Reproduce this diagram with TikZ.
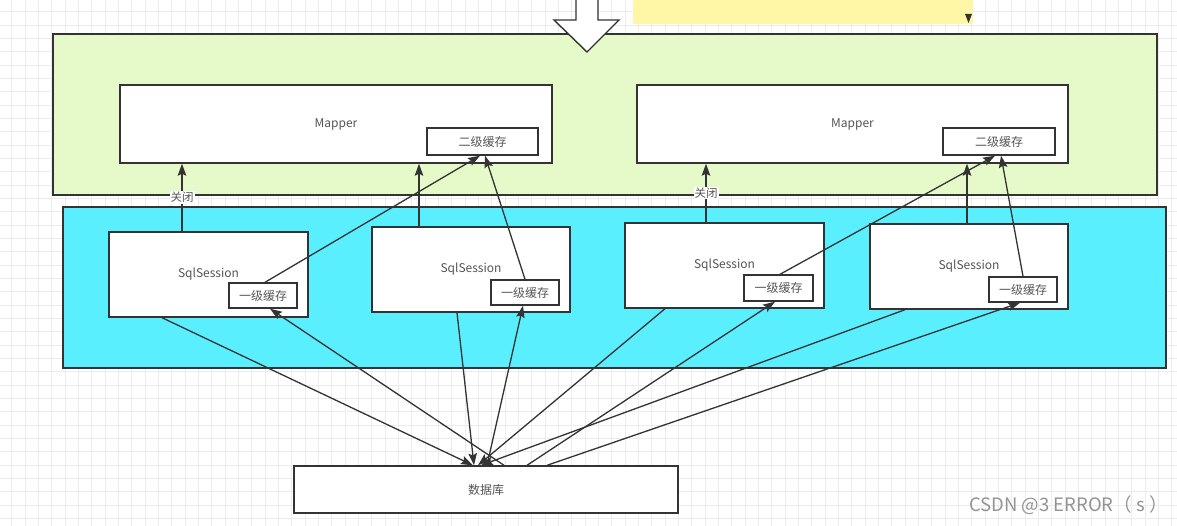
\documentclass[tikz,border=0pt]{standalone}
\usepackage{fontspec}
\setmainfont{Noto Sans CJK SC}
\usetikzlibrary{arrows.meta}
\definecolor{bggreen}{RGB}{230,249,200}
\definecolor{bgcyan}{RGB}{90,239,255}
\definecolor{bgyellow}{RGB}{255,247,165}
\definecolor{edge}{RGB}{51,51,51}
\definecolor{txt}{RGB}{85,85,85}
\definecolor{gridc}{RGB}{236,236,236}
\begin{document}
\begin{tikzpicture}[x=1pt,y=-1pt,
  box/.style={draw=edge,line width=1.4pt,fill=white,rectangle,inner sep=0pt,font=\fontsize{12}{14}\selectfont,text=txt},
  lane/.style={draw=edge,line width=1.4pt,rectangle,inner sep=0pt},
  arr/.style={draw=edge,line width=1.3pt,-{Stealth[length=12pt,width=8.5pt,inset=2pt]}},
  lbl/.style={font=\fontsize{11.5}{13}\selectfont,text=txt,inner sep=1pt}]
\useasboundingbox (0,0) rectangle (1177,526);
\fill[white] (0,0) rectangle (1177,526);
% grid
\foreach \i in {0,...,88} {\draw[gridc,line width=0.6pt] (11.7+13.333*\i,0) -- (11.7+13.333*\i,526);}
\foreach \j in {0,...,39} {\draw[gridc,line width=0.6pt] (0,11.7+13.333*\j) -- (1177,11.7+13.333*\j);}
% lanes
\node[lane,fill=bggreen,minimum width=1104pt,minimum height=161pt] (green) at (605,114.5) {};
\node[lane,fill=bgcyan,minimum width=1103pt,minimum height=161pt] (cyan) at (614.5,287.5) {};
\node[rectangle,fill=bgyellow,inner sep=0pt,minimum width=340pt,minimum height=30pt] (yel) at (803,9.5) {};
\fill[edge] (965,14) -- (972,14) -- (968.5,23) -- cycle;
% big hollow arrow
\draw[edge,fill=white,line width=1.4pt,line join=miter] (576,-3) -- (576,20) -- (554,20) -- (587,52) -- (619,20) -- (598,20) -- (598,-3);
% mappers
\node[box,minimum width=432pt,minimum height=78pt] (m1) at (336,124) {Mapper};
\node[box,minimum width=111pt,minimum height=27pt] (c2a) at (482.5,141.5) {二级缓存};
\node[box,minimum width=431pt,minimum height=78pt] (m2) at (852.5,124) {Mapper};
\node[box,minimum width=112pt,minimum height=27pt] (c2b) at (999,141.5) {二级缓存};
% sessions
\node[box,minimum width=199pt,minimum height=85pt] (s1) at (208.5,274.5) {SqlSession};
\node[box,minimum width=68pt,minimum height=25pt] (k1) at (263,295.5) {一级缓存};
\node[box,minimum width=198pt,minimum height=85pt] (s2) at (471,269.5) {SqlSession};
\node[box,minimum width=68pt,minimum height=25pt] (k2) at (525,292.5) {一级缓存};
\node[box,minimum width=199pt,minimum height=85pt] (s3) at (724.5,265.5) {SqlSession};
\node[box,minimum width=69pt,minimum height=26pt] (k3) at (778.5,288) {一级缓存};
\node[box,minimum width=198pt,minimum height=85pt] (s4) at (969,266.5) {SqlSession};
\node[box,minimum width=68pt,minimum height=25pt] (k4) at (1023,289.5) {一级缓存};
% database
\node[box,minimum width=384pt,minimum height=47pt] (db) at (486,489.5) {数据库};
% upper arrows
\draw[arr] ([xshift=-26.5]s1.north) -- node[lbl,fill=white,pos=0.5] {关闭} ([xshift=-154]m1.south);
\draw[arr] ([xshift=2]k1.north) -- ([xshift=-2.5]c2a.south);
\draw[arr] ([xshift=-52]s2.north) -- ([xshift=83]m1.south);
\draw[arr] (k2.north) -- ([xshift=2.5]c2a.south);
\draw[arr] ([xshift=-18.5]s3.north) -- node[lbl,fill=white,pos=0.5] {关闭} ([xshift=-146.5]m2.south);
\draw[arr] ([xshift=1.5]k3.north) -- ([xshift=-4]c2b.south);
\draw[arr] ([xshift=-2]s4.north) -- ([xshift=114.5]m2.south);
\draw[arr] (k4.north) -- ([xshift=2]c2b.south);
% lower arrows
\draw[arr] ([xshift=-46.5]s1.south) -- ([xshift=-13]db.north);
\draw[arr] ([xshift=18]db.north) -- ([xshift=7]k1.south);
\draw[arr] ([xshift=-14]s2.south) -- ([xshift=-12]db.north);
\draw[arr] ([xshift=1]db.north) -- ([xshift=-2]k2.south);
\draw[arr] ([xshift=-59.5]s3.south) -- ([xshift=-8]db.north);
\draw[arr] ([xshift=41]db.north) -- ([xshift=-3.5]k3.south);
\draw[arr] ([xshift=-64]s4.south) -- ([xshift=-5]db.north);
\draw[arr] ([xshift=61]db.north) -- ([xshift=-3]k4.south);
% watermark
\node[font=\fontsize{18.5}{20}\selectfont,text=black!42,anchor=west,inner sep=0pt] (wm) at (969,505) {CSDN @3 ERROR（ s ）};
\end{tikzpicture}
\end{document}
